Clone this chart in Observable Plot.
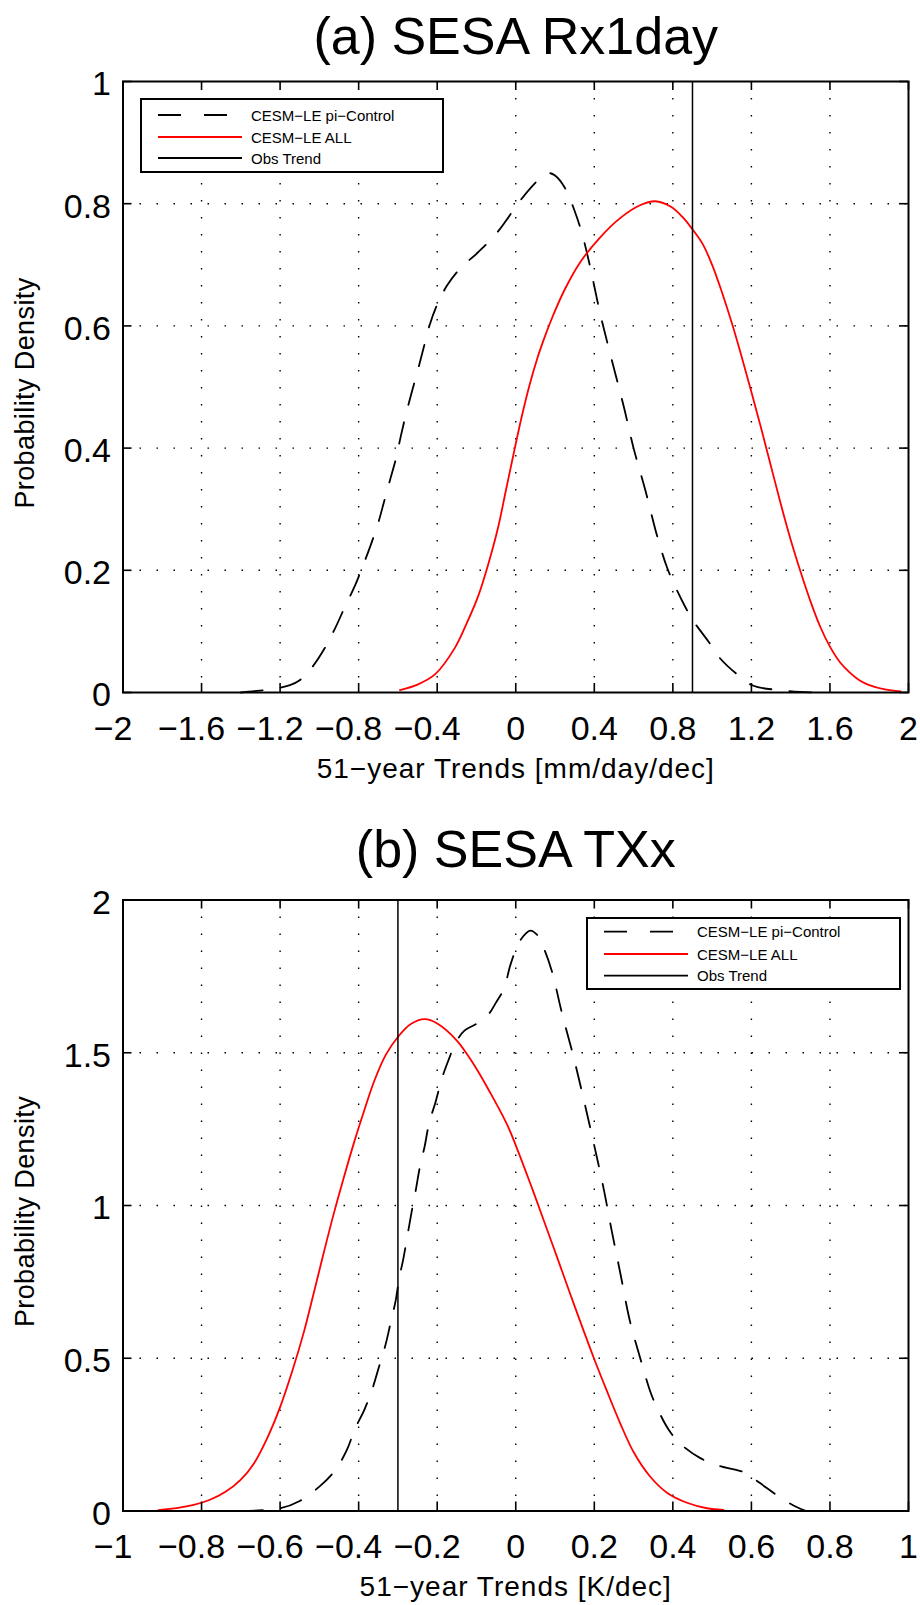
<!DOCTYPE html>
<html>
<head>
<meta charset="utf-8">
<script src="https://cdn.jsdelivr.net/npm/d3@7"></script>
<script src="https://cdn.jsdelivr.net/npm/@observablehq/plot@0.6"></script>
<style>
html, body { margin: 0; padding: 0; background: #fff; }
#wrap svg { display: block; }
</style>
</head>
<body>
<div id="wrap"></div>
<script>
// ---------- Panel (a) SESA Rx1day ----------
const titleA = "(a) SESA Rx1day";
const xLabelA = "51\u2212year Trends [mm/day/dec]";
const xTicksA = [-2, -1.6, -1.2, -0.8, -0.4, 0, 0.4, 0.8, 1.2, 1.6, 2];
const xTickLabelsA = ["\u22122", "\u22121.6", "\u22121.2", "\u22120.8", "\u22120.4", "0", "0.4", "0.8", "1.2", "1.6", "2"];
const yTicksA = [0, 0.2, 0.4, 0.6, 0.8, 1];
const yTickLabelsA = ["0", "0.2", "0.4", "0.6", "0.8", "1"];
const obsA = 0.9;

const ctrlAx = [-1.40, -1.34, -1.23, -1.15, -1.10, -1.04, -0.97, -0.92, -0.87, -0.82, -0.78, -0.74, -0.70, -0.67, -0.64, -0.61, -0.585, -0.56, -0.53, -0.50, -0.47, -0.44, -0.40, -0.35, -0.28, -0.20, -0.11, -0.05, 0.02, 0.09, 0.14, 0.17, 0.20, 0.25, 0.30, 0.34, 0.38, 0.43, 0.49, 0.55, 0.60, 0.66, 0.72, 0.77, 0.81, 0.86, 0.90, 0.98, 1.04, 1.13, 1.21, 1.34, 1.45, 1.55];
const ctrlAy = [0.000, 0.002, 0.006, 0.012, 0.020, 0.040, 0.074, 0.105, 0.140, 0.174, 0.206, 0.240, 0.278, 0.313, 0.348, 0.383, 0.420, 0.454, 0.491, 0.526, 0.563, 0.600, 0.635, 0.666, 0.695, 0.718, 0.747, 0.772, 0.804, 0.831, 0.846, 0.850, 0.846, 0.826, 0.788, 0.748, 0.695, 0.620, 0.543, 0.468, 0.400, 0.331, 0.256, 0.205, 0.175, 0.142, 0.119, 0.084, 0.056, 0.029, 0.011, 0.004, 0.001, 0.000];

const allAx = [-0.59, -0.50, -0.41, -0.31, -0.25, -0.19, -0.14, -0.09, -0.05, -0.01, 0.03, 0.07, 0.11, 0.15, 0.19, 0.25, 0.33, 0.43, 0.53, 0.63, 0.71, 0.79, 0.85, 0.90, 0.95, 1.00, 1.05, 1.10, 1.15, 1.20, 1.25, 1.30, 1.35, 1.40, 1.45, 1.50, 1.55, 1.60, 1.65, 1.70, 1.75, 1.80, 1.88, 1.96];
const allAy = [0.004, 0.013, 0.030, 0.073, 0.113, 0.159, 0.210, 0.270, 0.331, 0.392, 0.451, 0.503, 0.547, 0.584, 0.617, 0.660, 0.705, 0.745, 0.776, 0.797, 0.804, 0.795, 0.778, 0.758, 0.735, 0.700, 0.655, 0.605, 0.550, 0.492, 0.432, 0.370, 0.308, 0.250, 0.198, 0.150, 0.108, 0.075, 0.050, 0.033, 0.020, 0.012, 0.005, 0.002];

// ---------- Panel (b) SESA TXx ----------
const titleB = "(b) SESA TXx";
const xLabelB = "51\u2212year Trends [K/dec]";
const xTicksB = [-1, -0.8, -0.6, -0.4, -0.2, 0, 0.2, 0.4, 0.6, 0.8, 1];
const xTickLabelsB = ["\u22121", "\u22120.8", "\u22120.6", "\u22120.4", "\u22120.2", "0", "0.2", "0.4", "0.6", "0.8", "1"];
const yTicksB = [0, 0.5, 1, 1.5, 2];
const yTickLabelsB = ["0", "0.5", "1", "1.5", "2"];
const obsB = -0.30;

const ctrlBx = [-0.70, -0.60, -0.55, -0.50, -0.46, -0.43, -0.41, -0.385, -0.365, -0.348, -0.331, -0.318, -0.306, -0.297, -0.286, -0.276, -0.265, -0.255, -0.244, -0.232, -0.221, -0.204, -0.187, -0.17, -0.153, -0.13, -0.10, -0.07, -0.05, -0.03, -0.013, 0.01, 0.037, 0.055, 0.07, 0.092, 0.117, 0.147, 0.172, 0.198, 0.223, 0.245, 0.266, 0.291, 0.317, 0.342, 0.359, 0.389, 0.419, 0.47, 0.52, 0.58, 0.62, 0.67, 0.715, 0.74];
const ctrlBy = [0.000, 0.009, 0.033, 0.080, 0.133, 0.200, 0.267, 0.333, 0.400, 0.473, 0.547, 0.620, 0.687, 0.760, 0.827, 0.900, 0.980, 1.047, 1.127, 1.193, 1.267, 1.340, 1.420, 1.480, 1.533, 1.573, 1.595, 1.625, 1.665, 1.710, 1.790, 1.865, 1.900, 1.885, 1.847, 1.767, 1.633, 1.487, 1.353, 1.207, 1.060, 0.913, 0.780, 0.620, 0.500, 0.393, 0.340, 0.267, 0.220, 0.173, 0.147, 0.127, 0.093, 0.047, 0.013, 0.000];

const allBx = [-0.91, -0.86, -0.82, -0.78, -0.74, -0.70, -0.667, -0.633, -0.60, -0.569, -0.539, -0.514, -0.488, -0.463, -0.437, -0.412, -0.386, -0.361, -0.331, -0.301, -0.268, -0.232, -0.20, -0.15, -0.106, -0.064, -0.021, 0.003, 0.037, 0.07, 0.104, 0.138, 0.172, 0.199, 0.232, 0.266, 0.30, 0.342, 0.385, 0.436, 0.487, 0.529];
const allBy = [0.003, 0.010, 0.020, 0.036, 0.062, 0.103, 0.155, 0.238, 0.340, 0.458, 0.588, 0.715, 0.850, 0.975, 1.095, 1.205, 1.310, 1.405, 1.493, 1.550, 1.593, 1.610, 1.596, 1.540, 1.460, 1.367, 1.262, 1.187, 1.072, 0.956, 0.835, 0.713, 0.593, 0.500, 0.393, 0.287, 0.193, 0.113, 0.060, 0.027, 0.009, 0.004];

const yLabel = "Probability Density";
const legendLabels = ["CESM\u2212LE pi\u2212Control", "CESM\u2212LE ALL", "Obs Trend"];

// ---------- drawing ----------
const FONT = "'Liberation Sans', Arial, Helvetica, sans-serif";
const pts = (xs, ys) => xs.map((x, i) => ({x, y: ys[i]}));

function panel(cfg) {
  const mLeft = 122.5, mRight = 12;
  const W = 920 - mLeft - mRight;
  const H = cfg.svgH - cfg.mTop - cfg.mBottom;
  const xt = cfg.xTicks.map((v, i) => ({v, label: cfg.xTickLabels[i]}));
  const yt = cfg.yTicks.map((v, i) => ({v, label: cfg.yTickLabels[i]}));
  const inner = (a) => a.slice(1, -1);
  const plot = Plot.plot({
    width: 920,
    height: cfg.svgH,
    marginTop: cfg.mTop,
    marginBottom: cfg.mBottom,
    marginLeft: mLeft,
    marginRight: mRight,
    x: {domain: cfg.xDomain, axis: null},
    y: {domain: cfg.yDomain, axis: null},
    style: {fontFamily: FONT, background: "white", overflow: "visible", color: "black"},
    marks: [
      Plot.gridX(inner(cfg.xTicks), {stroke: "black", strokeOpacity: 1, strokeWidth: 1.4, strokeDasharray: "1.5,15.5"}),
      Plot.gridY(inner(cfg.yTicks), {stroke: "black", strokeOpacity: 1, strokeWidth: 1.4, strokeDasharray: "1.5,15.5"}),
      Plot.line(cfg.ctrl, {x: "x", y: "y", stroke: "black", strokeWidth: 1.8, strokeDasharray: "22,18", curve: "catmull-rom"}),
      Plot.line(cfg.all, {x: "x", y: "y", stroke: "#ff0000", strokeWidth: 1.8, curve: "catmull-rom"}),
      Plot.ruleX([cfg.obs], {x: d => d, stroke: "black", strokeWidth: 1.5}),
      Plot.tickX(cfg.xTicks, {x: d => d, insetTop: H - 9, stroke: "black", strokeWidth: 1.6}),
      Plot.tickX(cfg.xTicks, {x: d => d, insetBottom: H - 9, stroke: "black", strokeWidth: 1.6}),
      Plot.tickY(cfg.yTicks, {y: d => d, insetRight: W - 9, stroke: "black", strokeWidth: 1.6}),
      Plot.tickY(cfg.yTicks, {y: d => d, insetLeft: W - 9, stroke: "black", strokeWidth: 1.6}),
      Plot.frame({stroke: "black", strokeWidth: 2}),
      Plot.text(xt.filter(d => d.v < 0), {x: "v", text: "label", frameAnchor: "bottom", textAnchor: "middle", lineAnchor: "bottom", dy: 47, dx: -10, fontSize: 34, fill: "black"}),
      Plot.text(xt.filter(d => d.v >= 0), {x: "v", text: "label", frameAnchor: "bottom", textAnchor: "middle", lineAnchor: "bottom", dy: 47, fontSize: 34, fill: "black"}),
      Plot.text(yt, {y: "v", text: "label", frameAnchor: "left", textAnchor: "end", lineAnchor: "middle", dx: -12, dy: 3, fontSize: 34, fill: "black"}),
      Plot.text([cfg.title], {text: d => d, frameAnchor: "top", textAnchor: "middle", lineAnchor: "bottom", dy: cfg.titleDy, fontSize: 52, fill: "black"}),
      Plot.text([cfg.xLabel], {text: d => d, frameAnchor: "bottom", textAnchor: "middle", lineAnchor: "bottom", dy: 85, fontSize: 28, fill: "black"}),
      Plot.text([yLabel], {text: d => d, frameAnchor: "left", textAnchor: "middle", rotate: -90, lineAnchor: "bottom", dx: -89.5, dy: 6, fontSize: 27, fill: "black"})
    ]
  });

  const svg = d3.select(plot);
  svg.selectAll("text").filter(function () { return this.textContent.startsWith("51"); }).attr("letter-spacing", 1);
  svg.selectAll("text").filter(function () { return this.getAttribute("font-size") === "34"; }).attr("letter-spacing", 1);
  svg.selectAll("text").filter(function () { return this.textContent === yLabel; }).attr("letter-spacing", 0.4);

  // legend box (inside the axes, like the original)
  const L = cfg.legend;
  const g = svg.append("g").attr("font-family", FONT).attr("font-size", 15).attr("fill", "black").attr("text-anchor", "start");
  g.append("rect").attr("x", L.x0).attr("y", L.y0).attr("width", L.x1 - L.x0).attr("height", L.y1 - L.y0)
    .attr("fill", "white").attr("stroke", "black").attr("stroke-width", 2);
  const styles = [
    {stroke: "black", dash: "23,23"},
    {stroke: "#ff0000", dash: null},
    {stroke: "black", dash: null}
  ];
  legendLabels.forEach((lab, i) => {
    const yy = L.rows[i];
    const ln = g.append("line").attr("x1", L.lx0).attr("x2", L.lx1).attr("y1", yy).attr("y2", yy)
      .attr("stroke", styles[i].stroke).attr("stroke-width", 1.8);
    if (styles[i].dash) ln.attr("stroke-dasharray", styles[i].dash);
    g.append("text").attr("x", L.tx).attr("y", yy + 5.5).attr("text-anchor", "start").text(lab);
  });
  return plot;
}

const wrap = document.getElementById("wrap");
wrap.appendChild(panel({
  svgH: 800, mTop: 81, mBottom: 108,
  xDomain: [-2, 2], yDomain: [0, 1],
  xTicks: xTicksA, xTickLabels: xTickLabelsA, yTicks: yTicksA, yTickLabels: yTickLabelsA,
  ctrl: pts(ctrlAx, ctrlAy), all: pts(allAx, allAy), obs: obsA,
  title: titleA, titleDy: -28, xLabel: xLabelA,
  legend: {x0: 141, x1: 443, y0: 99, y1: 172, rows: [115, 137, 158], lx0: 158, lx1: 242, tx: 251}
}));
wrap.appendChild(panel({
  svgH: 805, mTop: 99.5, mBottom: 94.5,
  xDomain: [-1, 1], yDomain: [0, 2],
  xTicks: xTicksB, xTickLabels: xTickLabelsB, yTicks: yTicksB, yTickLabels: yTickLabelsB,
  ctrl: pts(ctrlBx, ctrlBy), all: pts(allBx, allBy), obs: obsB,
  title: titleB, titleDy: -33.5, xLabel: xLabelB,
  legend: {x0: 587, x1: 900, y0: 118, y1: 189, rows: [131.7, 154, 175.7], lx0: 604, lx1: 688, tx: 697}
}));
</script>
</body>
</html>
